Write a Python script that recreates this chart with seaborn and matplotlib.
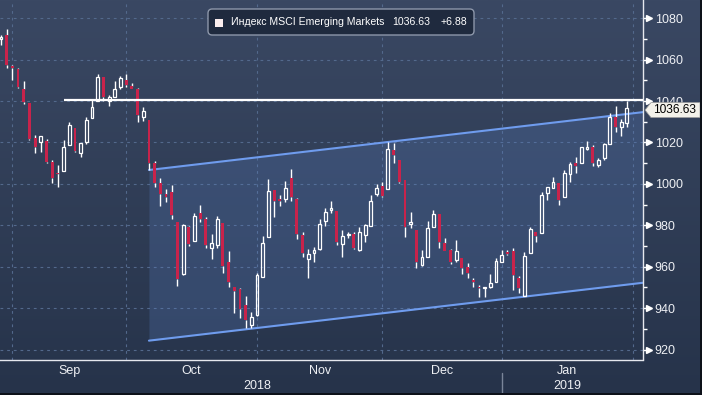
import numpy as np
import pandas as pd
import matplotlib
matplotlib.use("Agg")
import matplotlib.pyplot as plt
import matplotlib.transforms as mtransforms
from matplotlib.patches import FancyBboxPatch, Rectangle, Polygon
from matplotlib.colors import LinearSegmentedColormap
import seaborn as sns

# MSCI EM daily candles, weekdays 30 Aug 2018 - 31 Jan 2019
dates = pd.bdate_range("2018-08-30", "2019-01-31")
opens = [1070, 1072, 1057, 1055.5, 1045.7, 1039, 1022.2, 1020, 1020.6, 1010.8,
         1005, 1006, 1018.8, 1027, 1015.1, 1020, 1031.7, 1040, 1051.5, 1040.2,
         1041.8, 1046.7, 1050.2, 1047.3, 1045.9, 1032.5, 1030.9, 1010.3, 1000.3, 995,
         995.9, 981.4, 956.3, 979.3, 972.3, 985.8, 983.2, 968.9, 970.5, 980.9,
         962.4, 950, 949.2, 941.5, 932.1, 936.6, 955.2, 974.2, 997, 992.8,
         992.7, 1002.7, 992.7, 975.3, 963.6, 966.5, 968.6, 982.2, 987.4, 986.9,
         970.8, 975.3, 975.8, 968.1, 975.3, 979.8, 995.1, 999, 997.4, 1016.4,
         1011.5, 1001.9, 980.6, 977.7, 960.8, 964.8, 979.3, 985.3, 971.6, 968.1,
         963.2, 964.1, 960, 953.6, 950.4, 949.6, 950.4, 952.8, 962.4, 967.3,
         967.8, 954.7, 945.8, 966.8, 976.9, 976.4, 995.8, 997.9, 1000.3, 993.5,
         1004.6, 1010, 1010, 1016.7, 1018, 1009.1, 1012.4, 1019.1, 1032.5, 1027.6,
         1029.5]
highs = [1072, 1074.7, 1057.5, 1055.8, 1049.7, 1039, 1023.6, 1023, 1021.6, 1011.6,
         1009, 1021, 1030, 1027, 1019.6, 1032.2, 1040.5, 1053.1, 1051.5, 1043,
         1049.9, 1052.1, 1053.1, 1048.6, 1046.5, 1037, 1030.9, 1011.1, 1002.7, 997.5,
         999.3, 981.4, 980.5, 979.6, 985.8, 989.8, 984.2, 975.8, 984.5, 980.9,
         967.6, 950, 949.5, 945.8, 938.3, 956.8, 974.8, 1002.4, 997, 994.6,
         1001.4, 1007, 993, 976.9, 968.4, 969.7, 983.1, 988.2, 991.7, 986.9,
         977.7, 977, 977, 979, 980.5, 994.6, 999.9, 1001.1, 1020.4, 1019.6,
         1011.5, 1001.9, 986.6, 977.7, 968, 982.2, 987.4, 985.3, 973.7, 968.4,
         972.9, 964.1, 962, 954.7, 951.2, 950.4, 956.5, 964.1, 968.1, 968.1,
         968.9, 955.5, 967.3, 979.3, 976.9, 996.2, 998.3, 1003.5, 1000.3, 1006.7,
         1010.7, 1012.8, 1018, 1020.7, 1018.8, 1012.3, 1019.9, 1034.1, 1037.6, 1031.2,
         1040.2]
lows = [1067, 1056.2, 1050.2, 1046.2, 1038.6, 1021.2, 1014.8, 1015.6, 1010, 1000.3,
        998.7, 1006, 1018.8, 1015.3, 1012.8, 1019.4, 1031.7, 1040, 1040, 1037.6,
        1041.8, 1045.7, 1046.7, 1045.7, 1030, 1030.6, 1006.7, 998.3, 989.3, 991.4,
        982.9, 950.8, 956, 970, 972.3, 981.8, 968.9, 963.5, 968.9, 957.1,
        950.3, 937.5, 935, 930.5, 930.5, 936.2, 955.2, 974.2, 984.2, 989.3,
        991.4, 991.9, 973.2, 964.5, 954.4, 962.4, 968.1, 979.7, 985.8, 970.5,
        964.5, 973.7, 968.4, 967.8, 971.8, 979.8, 994.2, 993.5, 997.4, 1010.3,
        1000.3, 974.2, 978.5, 959.5, 960.3, 964.8, 979.3, 968.9, 967.8, 961.3,
        962.4, 956.5, 954.4, 950.4, 945.5, 945.5, 949.6, 952.8, 962.4, 965.7,
        948.8, 947.1, 945.8, 966.8, 972.1, 976.4, 992.2, 997.9, 989.8, 993.5,
        1001.1, 1005.4, 1010, 1016.4, 1008.6, 1008, 1011.5, 1019.1, 1025.2, 1023.1,
        1027.6]
closes = [1071, 1057.5, 1055.8, 1047, 1039.7, 1021.5, 1018, 1023, 1010.8, 1003,
          1004.6, 1018, 1028.5, 1016, 1019.6, 1030.9, 1037, 1051.5, 1042.2, 1041.8,
          1045.7, 1051, 1047.6, 1046, 1033.3, 1035.2, 1010.3, 1000.6, 995.1, 993.8,
          985, 954, 980, 971, 984.5, 983, 970.5, 971.3, 983.2, 960.3,
          952.8, 948.4, 939.4, 934.2, 935.9, 956, 971.3, 996.5, 991.9, 991.9,
          997.8, 993.5, 975.8, 966.4, 966.1, 968.1, 980.5, 986.3, 988.5, 972.1,
          974.8, 975.3, 968.9, 976.6, 980.1, 991.7, 997.9, 994.3, 1016.9, 1014,
          1001.1, 979, 981.8, 962.4, 964.8, 978.5, 985.5, 971.8, 967.8, 962.4,
          967.6, 959.5, 956.8, 952.4, 949.6, 950.4, 952.3, 962.8, 965.7, 966.1,
          956, 949.6, 965.2, 978.1, 975, 994.6, 998.3, 1000.8, 992.2, 1005.1,
          1009.4, 1008.6, 1018, 1018, 1010.3, 1011.6, 1019.3, 1032.5, 1027.6, 1029.75,
          1036.63]

series_name = "Индекс MSCI Emerging Markets"
last_close = 1036.63
change = "+6.88"
resistance = 1040.5
resistance_from = "2018-09-14"
channel_from = "2018-10-05"
channel_upper0 = 1006.7
channel_lower0 = 924.3
channel_slope = 0.322  # index points per trading day
y_ticks = [920, 940, 960, 980, 1000, 1020, 1040, 1060, 1080]

W, H = 702, 395
sns.set_theme(style="dark")
plt.rcParams["font.family"] = ["Liberation Sans", "DejaVu Sans"]

fig = plt.figure(figsize=(W / 100, H / 100), dpi=100)
fig.set_facecolor("#2d3b53")

# background gradient
bg = fig.add_axes([0, 0, 1, 1], zorder=-10)
cmap = LinearSegmentedColormap.from_list("bg", ["#3a4863", "#26334a"])
bg.imshow(np.linspace(0, 1, 256).reshape(-1, 1), aspect="auto", cmap=cmap,
          extent=[0, 1, 0, 1])
bg.set_xlim(0, 1)
bg.set_ylim(0, 1)
bg.axis("off")

ax = fig.add_axes([0, 1 - 359.5 / H, 643 / W, 359.5 / H])
ax.set_facecolor("none")
x_left, x_right = -0.176, 112.83

x = np.arange(len(dates))
o, h, l, c = map(np.array, (opens, highs, lows, closes))
up = c >= o
top = np.maximum(o, c)
bot = np.minimum(o, c)
body = np.maximum(top - bot, 0.5)

# channel
c0 = dates.get_loc(pd.Timestamp(channel_from))
cx = np.array([c0, x_right])
upper = channel_upper0 + channel_slope * (cx - c0)
lower = channel_lower0 + channel_slope * (cx - c0)
ax.fill_between(cx, lower, upper, color="#5a80c4", alpha=0.25, lw=0, zorder=1)
sns.lineplot(x=cx, y=upper, ax=ax, color="#6f9cee", lw=1.5, zorder=2)
sns.lineplot(x=cx, y=lower, ax=ax, color="#6f9cee", lw=1.5, zorder=2)

# candles
ax.vlines(x, top, h, color="white", lw=1, zorder=3)
ax.vlines(x, l, bot, color="white", lw=1, zorder=3)
ax.bar(x[~up], body[~up], bottom=bot[~up], width=0.5, color="#c8234b", lw=0, zorder=4)
ax.bar(x[up], body[up], bottom=bot[up], width=0.5, facecolor="none",
       edgecolor="white", lw=0.9, zorder=4)

# resistance line
r0 = dates.get_loc(pd.Timestamp(resistance_from))
ax.hlines(resistance, r0, x_right, color="white", lw=1.6, zorder=5)

# axes
ax.set_xlim(x_left, x_right)
ax.set_ylim(915.2, 1088.8)
ax.set_xlabel("")
ax.set_ylabel("")

month_starts = [i for i in range(1, len(dates)) if dates[i].month != dates[i - 1].month]
ticks = month_starts + [len(dates)]
ax.set_xticks(ticks)
ax.tick_params(axis="x", which="major", length=4, width=1, color="white",
               labelbottom=False, direction="out")
ax.yaxis.tick_right()
ax.set_yticks(y_ticks)
ax.set_yticks([v + 10 for v in y_ticks[:-1]], minor=True)
ax.tick_params(axis="y", which="major", length=3.5, width=1, color="white",
               labelcolor="#eef0f4", labelsize=9, pad=5)
ax.tick_params(axis="y", which="minor", length=3, width=1, color="white", right=True)
ax.grid(True, which="major", color="#53698c", lw=0.8, linestyle=(0, (2.5, 3.5)))
for side in ["left", "top"]:
    ax.spines[side].set_visible(False)
for side in ["right", "bottom"]:
    ax.spines[side].set_visible(True)
    ax.spines[side].set_color("#e6e8ee")
    ax.spines[side].set_linewidth(1)

tr = mtransforms.blended_transform_factory(ax.transAxes, ax.transData)
ax.plot([648.5 / 643] * len(y_ticks), y_ticks, ls="none", marker=">", ms=4,
        color="white", mec="white", transform=tr, clip_on=False, zorder=6)

# month and year labels
trx = mtransforms.blended_transform_factory(ax.transData, ax.transAxes)
for a, b in zip(ticks[:-1], ticks[1:]):
    ax.text((a + b) / 2, -0.032, dates[a].strftime("%b"), transform=trx,
            ha="center", va="center", color="#eef0f4", fontsize=9)
years = sorted(set(d.year for d in dates[month_starts]))
for yr in years:
    idx = [t for t in ticks[:-1] if dates[t].year == yr]
    last = ticks[ticks.index(idx[-1]) + 1]
    ax.text((idx[0] + last) / 2, -0.074, str(yr), transform=trx,
            ha="center", va="center", color="#eef0f4", fontsize=9)
    if idx[0] != ticks[0]:
        ax.plot([idx[0], idx[0]], [-0.038, -0.1], transform=trx, color="#7a8599",
                lw=1, clip_on=False)

# legend box
def fx(px):
    return px / W

def fy(py):
    return 1 - py / H

leg = FancyBboxPatch((fx(208), fy(35)), fx(266), 26 / H,
                     boxstyle="round,pad=0,rounding_size=0.006", mutation_aspect=W / H,
                     transform=fig.transFigure, fc="#1f2a3e", ec="#8d97aa", lw=1)
fig.patches.append(leg)
fig.patches.append(Rectangle((fx(215), fy(26.5)), fx(8), 8 / H, transform=fig.transFigure,
                             fc="#fbeeee", ec="none"))
fig.text(fx(231), fy(22), series_name, fontsize=7.6, color="white", va="center")
fig.text(fx(392), fy(22), f"{last_close:.2f}", fontsize=7.6, color="white", va="center")
fig.text(fx(441), fy(22), change, fontsize=7.6, color="white", va="center")

# last value callout
fig.canvas.draw()
yc = ax.transData.transform((0, last_close))[1] - 2
pts = [(645, yc), (651, yc + 7.5), (700, yc + 7.5), (700, yc - 7.5), (651, yc - 7.5)]
fig.patches.append(Polygon([(px / W, py / H) for px, py in pts], closed=True,
                           transform=fig.transFigure, fc="#f3f1ea", ec="#9a9a9a",
                           lw=0.5, zorder=5))
fig.text(675 / W, yc / H, f"{last_close:.2f}", fontsize=8.6, color="black",
         ha="center", va="center", zorder=6)

# dark frame on right and bottom
fig.patches.append(Rectangle((fx(700), 0), fx(2), 1, transform=fig.transFigure,
                             fc="#0d1119", ec="none", zorder=7))
fig.patches.append(Rectangle((0, 0), 1, 2 / H, transform=fig.transFigure,
                             fc="#0d1119", ec="none", zorder=7))

fig.savefig("out.png", dpi=100, facecolor=fig.get_facecolor())
